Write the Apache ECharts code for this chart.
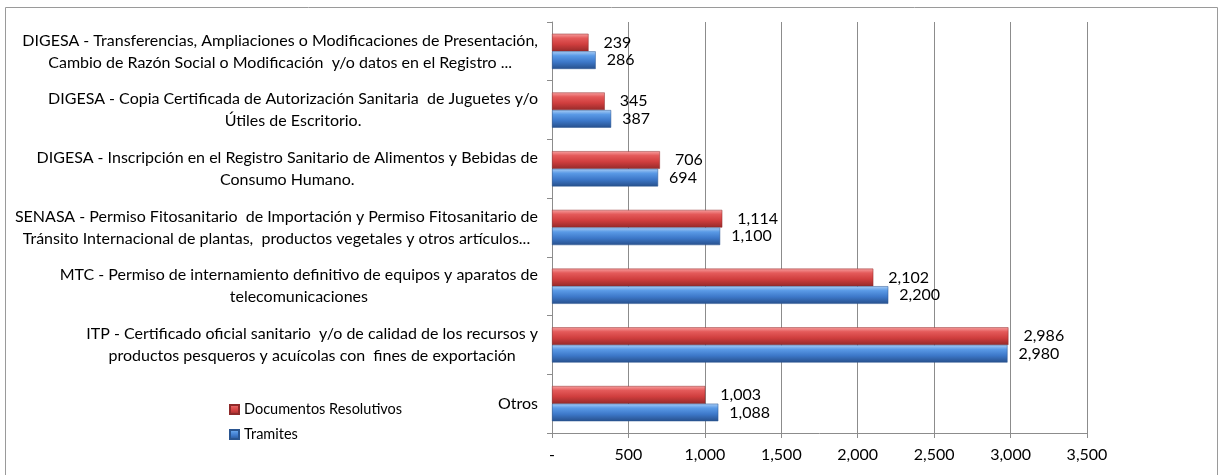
<!DOCTYPE html>
<html>
<head>
<meta charset="utf-8">
<script src="https://cdn.jsdelivr.net/npm/echarts@6/dist/echarts.min.js"></script>
<style>
  html, body { margin: 0; padding: 0; background: #fff; }
  #chart { width: 1223px; height: 475px; }
</style>
</head>
<body>
<div id="chart"></div>
<script>
// categories listed bottom to top (category axis runs upward)
const categories = [
  'Otros',
  'ITP - Certificado oficial sanitario  y/o de calidad de los recursos y\nproductos pesqueros y acuícolas con  fines de exportación',
  'MTC - Permiso de internamiento definitivo de equipos y aparatos de\ntelecomunicaciones',
  'SENASA - Permiso Fitosanitario  de Importación y Permiso Fitosanitario de\nTránsito Internacional de plantas,  productos vegetales y otros artículos...',
  'DIGESA - Inscripción en el Registro Sanitario de Alimentos y Bebidas de\nConsumo Humano.',
  'DIGESA - Copia Certificada de Autorización Sanitaria  de Juguetes y/o\nÚtiles de Escritorio.',
  'DIGESA - Transferencias, Ampliaciones o Modificaciones de Presentación,\nCambio de Razón Social o Modificación  y/o datos en el Registro ...'
];
const documentosResolutivos = [1003, 2986, 2102, 1114, 706, 345, 239];
const tramites = [1088, 2980, 2200, 1100, 694, 387, 286];
const xTicks = [0, 500, 1000, 1500, 2000, 2500, 3000, 3500];

const FONT = 'Lato, "Liberation Sans", sans-serif';
const fmt = v => v === 0 ? '-' : v.toLocaleString('en-US');

const redFill = new echarts.graphic.LinearGradient(0, 0, 0, 1, [
  { offset: 0, color: '#f7a0a0' },
  { offset: 0.25, color: '#e45a5a' },
  { offset: 0.6, color: '#d03e3e' },
  { offset: 1, color: '#962a2a' }
]);
const blueFill = new echarts.graphic.LinearGradient(0, 0, 0, 1, [
  { offset: 0, color: '#a9cdf5' },
  { offset: 0.25, color: '#5a9ae6' },
  { offset: 0.6, color: '#3d78c9' },
  { offset: 1, color: '#27508c' }
]);

const chart = echarts.init(document.getElementById('chart'));
chart.setOption({
  animation: false,
  textStyle: { fontFamily: FONT, color: '#000' },
  graphic: [{
    type: 'rect',
    shape: { x: 5.5, y: 7.5, width: 1212, height: 480 },
    style: { fill: 'none', stroke: '#9a9a9a', lineWidth: 1 },
    silent: true
  }],
  legend: {
    orient: 'vertical',
    left: 224,
    top: 397,
    itemWidth: 9,
    itemHeight: 9,
    itemGap: 10,
    icon: 'rect',
    data: ['Documentos Resolutivos', 'Tramites'],
    textStyle: { fontFamily: FONT, fontSize: 14.5, color: '#000' }
  },
  grid: { left: 552, right: 136, top: 22, bottom: 42 },
  xAxis: {
    type: 'value',
    min: xTicks[0],
    max: xTicks[xTicks.length - 1],
    interval: 500,
    axisLine: { show: true, lineStyle: { color: '#8c8c8c' } },
    axisTick: { show: true, length: 5, lineStyle: { color: '#8c8c8c' } },
    splitLine: { show: true, lineStyle: { color: '#8c8c8c' } },
    axisLabel: { formatter: fmt, margin: 14, fontSize: 16, color: '#000', fontFamily: FONT }
  },
  yAxis: {
    type: 'category',
    data: categories,
    axisLine: { show: true, lineStyle: { color: '#8c8c8c' } },
    axisTick: { show: true, length: 5, lineStyle: { color: '#8c8c8c' } },
    axisLabel: {
      margin: 14,
      align: 'right',
      formatter: v => v.split('\n').map(s => '{c|' + s + '}').join('\n'),
      rich: {
        c: { align: 'center', fontSize: 16, lineHeight: 22, color: '#000', fontFamily: FONT }
      }
    }
  },
  series: [
    {
      name: 'Documentos Resolutivos',
      type: 'bar',
      data: documentosResolutivos,
      barGap: '0%',
      barCategoryGap: '40%',
      itemStyle: { color: redFill, borderColor: '#8e2a2a', borderWidth: 0.5 },
      label: {
        show: true, position: 'right', distance: 15,
        formatter: p => fmt(p.value), fontSize: 16, color: '#000', fontFamily: FONT
      }
    },
    {
      name: 'Tramites',
      type: 'bar',
      data: tramites,
      barGap: '0%',
      barCategoryGap: '40%',
      itemStyle: { color: blueFill, borderColor: '#2a5590', borderWidth: 0.5 },
      label: {
        show: true, position: 'right', distance: 11,
        formatter: p => fmt(p.value), fontSize: 16, color: '#000', fontFamily: FONT
      }
    }
  ]
});
</script>
</body>
</html>
